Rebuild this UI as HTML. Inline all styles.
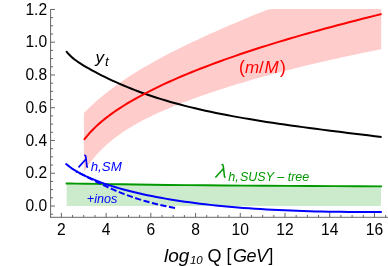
<!DOCTYPE html>
<html><head><meta charset="utf-8"><title>plot</title>
<style>
html,body{margin:0;padding:0;background:#fff;}
svg{display:block;will-change:transform;font-family:"Liberation Sans",sans-serif;}
</style></head>
<body>
<svg width="388" height="266" viewBox="0 0 388 266">
<rect width="388" height="266" fill="#fff"/>
<path d="M66.70 183.52 L69.52 183.54 L76.50 183.60 L85.54 183.73 L96.25 183.91 L108.40 184.11 L121.83 184.32 L136.43 184.52 L152.12 184.73 L168.82 184.93 L186.47 185.11 L205.03 185.29 L224.46 185.46 L244.71 185.61 L265.76 185.76 L287.57 185.90 L310.13 186.02 L333.40 186.14 L357.36 186.25 L381.00 186.36 L381 205.9 L66.7 205.9 Z" fill="#ccebcc"/>
<path d="M83.90 113.12 L84.42 112.59 L85.37 111.62 L86.60 110.39 L88.05 108.95 L89.70 107.35 L91.52 105.62 L93.51 103.79 L95.64 101.86 L97.91 99.86 L100.30 97.80 L102.82 95.70 L105.46 93.56 L108.21 91.39 L111.07 89.19 L114.03 86.98 L117.10 84.76 L120.26 82.53 L123.51 80.29 L126.86 78.05 L130.29 75.81 L133.82 73.57 L137.42 71.34 L141.12 69.10 L144.89 66.87 L148.74 64.64 L152.67 62.42 L156.67 60.20 L160.75 57.99 L164.91 55.78 L169.13 53.57 L173.43 51.37 L177.80 49.17 L182.23 46.97 L186.73 44.78 L191.30 42.59 L195.94 40.39 L200.64 38.21 L205.41 36.02 L210.23 33.83 L215.12 31.64 L220.07 29.46 L225.09 27.27 L230.16 25.08 L235.29 22.89 L240.48 20.70 L245.73 18.50 L251.04 16.31 L256.40 14.11 L261.82 11.91 L267.29 9.70 L272.82 9.00 L278.40 9.00 L284.04 9.00 L289.73 9.00 L295.48 9.00 L301.27 9.00 L307.12 9.00 L313.02 9.00 L318.97 9.00 L324.97 9.00 L331.02 9.00 L337.13 9.00 L343.28 9.00 L349.48 9.00 L355.73 9.00 L362.02 9.00 L368.37 9.00 L374.76 9.00 L381.20 9.00 L381.20 49.31 L374.76 50.56 L368.37 51.83 L362.02 53.12 L355.73 54.42 L349.48 55.73 L343.28 57.06 L337.13 58.40 L331.02 59.76 L324.97 61.13 L318.97 62.51 L313.02 63.91 L307.12 65.32 L301.27 66.75 L295.48 68.18 L289.73 69.63 L284.04 71.09 L278.40 72.56 L272.82 74.05 L267.29 75.55 L261.82 77.06 L256.40 78.58 L251.04 80.11 L245.73 81.65 L240.48 83.21 L235.29 84.77 L230.16 86.35 L225.09 87.94 L220.07 89.55 L215.12 91.16 L210.23 92.79 L205.41 94.43 L200.64 96.09 L195.94 97.76 L191.30 99.45 L186.73 101.15 L182.23 102.87 L177.80 104.61 L173.43 106.36 L169.13 108.14 L164.91 109.94 L160.75 111.77 L156.67 113.62 L152.67 115.50 L148.74 117.40 L144.89 119.34 L141.12 121.32 L137.42 123.33 L133.82 125.37 L130.29 127.46 L126.86 129.59 L123.51 131.77 L120.26 133.99 L117.10 136.26 L114.03 138.58 L111.07 140.94 L108.21 143.35 L105.46 145.80 L102.82 148.29 L100.30 150.80 L97.91 153.33 L95.64 155.86 L93.51 158.38 L91.52 160.85 L89.70 163.24 L88.05 165.51 L86.60 167.61 L85.37 169.45 L84.42 170.92 L83.90 171.74 Z" fill="#ffcccc"/>
<path d="M65.70 183.52 L69.52 183.54 L76.50 183.60 L85.54 183.73 L96.25 183.91 L108.40 184.11 L121.83 184.32 L136.43 184.52 L152.12 184.73 L168.82 184.93 L186.47 185.11 L205.03 185.29 L224.46 185.46 L244.71 185.61 L265.76 185.76 L287.57 185.90 L310.13 186.02 L333.40 186.14 L357.36 186.25 L382.00 186.36" stroke="#009900" stroke-width="1.9" fill="none"/>
<path d="M175.00 207.93 L169.92 207.00 L164.94 205.99 L160.04 204.92 L155.24 203.78 L150.53 202.58 L145.92 201.31 L141.41 199.98 L137.01 198.60 L132.70 197.16 L128.50 195.68 L124.41 194.16 L120.43 192.60 L116.57 191.02 L112.83 189.42 L109.21 187.81 L105.71 186.20 L102.35 184.61 L99.13 183.04 L96.05 181.50 L93.12 180.03 L90.34 178.61 L87.74 177.28 L85.32 176.05 L83.09 174.93 L81.07 173.93 L79.29 173.07 L77.79 172.37 L76.63 171.84 L76.00 171.56" stroke="#0000ff" stroke-width="2" fill="none" stroke-dasharray="6.2 2.52"/>
<path d="M65.60 163.49 L66.15 163.98 L67.16 164.84 L68.47 165.89 L70.01 167.06 L71.77 168.30 L73.71 169.59 L75.82 170.89 L78.08 172.21 L80.50 173.52 L83.05 174.84 L85.73 176.14 L88.53 177.42 L91.46 178.69 L94.50 179.95 L97.65 181.18 L100.91 182.40 L104.27 183.59 L107.73 184.76 L111.29 185.92 L114.94 187.04 L118.69 188.15 L122.53 189.23 L126.45 190.29 L130.46 191.32 L134.56 192.32 L138.74 193.30 L143.00 194.26 L147.34 195.19 L151.76 196.09 L156.25 196.97 L160.82 197.82 L165.46 198.64 L170.18 199.44 L174.97 200.21 L179.83 200.95 L184.76 201.67 L189.76 202.36 L194.83 203.03 L199.96 203.67 L205.17 204.28 L210.43 204.87 L215.76 205.44 L221.16 205.98 L226.62 206.49 L232.14 206.98 L237.72 207.44 L243.36 207.88 L249.06 208.30 L254.83 208.69 L260.65 209.06 L266.53 209.41 L272.47 209.73 L278.46 210.03 L284.52 210.31 L290.63 210.57 L296.79 210.81 L303.01 211.02 L309.29 211.21 L315.62 211.39 L322.00 211.54 L328.43 211.67 L334.92 211.78 L341.47 211.87 L348.06 211.95 L354.71 212.00 L361.40 212.03 L368.15 212.05 L374.95 212.05 L381.80 212.03" stroke="#0000ff" stroke-width="2" fill="none"/>
<path d="M66.20 51.10 L66.75 51.82 L67.76 53.05 L69.06 54.50 L70.60 56.05 L72.35 57.63 L74.29 59.21 L76.39 60.80 L78.65 62.37 L81.06 63.95 L83.60 65.53 L86.28 67.12 L89.07 68.72 L91.99 70.34 L95.03 71.97 L98.17 73.62 L101.42 75.28 L104.77 76.95 L108.22 78.62 L111.77 80.29 L115.42 81.96 L119.16 83.62 L122.98 85.27 L126.90 86.91 L130.90 88.53 L134.99 90.12 L139.15 91.70 L143.40 93.25 L147.73 94.77 L152.14 96.27 L156.62 97.73 L161.18 99.17 L165.81 100.57 L170.52 101.94 L175.30 103.28 L180.14 104.59 L185.06 105.87 L190.05 107.12 L195.10 108.34 L200.22 109.53 L205.41 110.69 L210.67 111.83 L215.98 112.93 L221.36 114.02 L226.81 115.07 L232.31 116.11 L237.88 117.12 L243.51 118.11 L249.20 119.08 L254.95 120.03 L260.76 120.97 L266.62 121.89 L272.54 122.79 L278.53 123.68 L284.56 124.56 L290.66 125.43 L296.81 126.29 L303.01 127.13 L309.27 127.97 L315.58 128.81 L321.95 129.63 L328.37 130.46 L334.84 131.27 L341.37 132.09 L347.95 132.91 L354.58 133.72 L361.26 134.53 L367.99 135.35 L374.77 136.17 L381.60 136.99" stroke="#000" stroke-width="2" fill="none"/>
<path d="M83.90 139.93 L84.42 139.25 L85.37 138.03 L86.60 136.52 L88.06 134.80 L89.71 132.93 L91.53 130.97 L93.52 128.94 L95.65 126.86 L97.92 124.75 L100.32 122.63 L102.85 120.50 L105.49 118.37 L108.25 116.24 L111.11 114.12 L114.07 112.01 L117.14 109.91 L120.31 107.82 L123.57 105.75 L126.92 103.68 L130.36 101.63 L133.88 99.59 L137.50 97.56 L141.19 95.55 L144.97 93.54 L148.83 91.55 L152.76 89.57 L156.77 87.61 L160.86 85.65 L165.02 83.70 L169.25 81.77 L173.55 79.85 L177.92 77.94 L182.36 76.04 L186.87 74.15 L191.45 72.27 L196.09 70.40 L200.80 68.55 L205.57 66.70 L210.40 64.86 L215.30 63.04 L220.26 61.22 L225.28 59.42 L230.36 57.63 L235.49 55.84 L240.69 54.07 L245.95 52.30 L251.26 50.55 L256.63 48.80 L262.06 47.07 L267.54 45.34 L273.07 43.62 L278.66 41.91 L284.31 40.21 L290.01 38.52 L295.76 36.84 L301.56 35.16 L307.42 33.50 L313.33 31.84 L319.29 30.19 L325.30 28.55 L331.36 26.91 L337.47 25.28 L343.63 23.66 L349.83 22.04 L356.09 20.44 L362.40 18.83 L368.75 17.24 L375.15 15.65 L381.60 14.07" stroke="#ff0000" stroke-width="2" fill="none"/>
<g stroke="#666" stroke-width="1" fill="none">
<line x1="50.6" y1="9.0" x2="50.6" y2="217.8"/>
<line x1="50.1" y1="217.3" x2="388" y2="217.3"/>
<line x1="50.6" y1="214.19" x2="53.10" y2="214.19"/>
<line x1="50.6" y1="206.00" x2="55.00" y2="206.00"/>
<line x1="50.6" y1="197.81" x2="53.10" y2="197.81"/>
<line x1="50.6" y1="189.62" x2="53.10" y2="189.62"/>
<line x1="50.6" y1="181.43" x2="53.10" y2="181.43"/>
<line x1="50.6" y1="173.24" x2="55.00" y2="173.24"/>
<line x1="50.6" y1="165.05" x2="53.10" y2="165.05"/>
<line x1="50.6" y1="156.86" x2="53.10" y2="156.86"/>
<line x1="50.6" y1="148.67" x2="53.10" y2="148.67"/>
<line x1="50.6" y1="140.48" x2="55.00" y2="140.48"/>
<line x1="50.6" y1="132.29" x2="53.10" y2="132.29"/>
<line x1="50.6" y1="124.10" x2="53.10" y2="124.10"/>
<line x1="50.6" y1="115.91" x2="53.10" y2="115.91"/>
<line x1="50.6" y1="107.72" x2="55.00" y2="107.72"/>
<line x1="50.6" y1="99.53" x2="53.10" y2="99.53"/>
<line x1="50.6" y1="91.34" x2="53.10" y2="91.34"/>
<line x1="50.6" y1="83.15" x2="53.10" y2="83.15"/>
<line x1="50.6" y1="74.96" x2="55.00" y2="74.96"/>
<line x1="50.6" y1="66.77" x2="53.10" y2="66.77"/>
<line x1="50.6" y1="58.58" x2="53.10" y2="58.58"/>
<line x1="50.6" y1="50.39" x2="53.10" y2="50.39"/>
<line x1="50.6" y1="42.20" x2="55.00" y2="42.20"/>
<line x1="50.6" y1="34.01" x2="53.10" y2="34.01"/>
<line x1="50.6" y1="25.82" x2="53.10" y2="25.82"/>
<line x1="50.6" y1="17.63" x2="53.10" y2="17.63"/>
<line x1="50.6" y1="9.44" x2="55.00" y2="9.44"/>
<line x1="61.40" y1="217.3" x2="61.40" y2="212.90"/>
<line x1="72.58" y1="217.3" x2="72.58" y2="215.00"/>
<line x1="83.76" y1="217.3" x2="83.76" y2="215.00"/>
<line x1="94.94" y1="217.3" x2="94.94" y2="215.00"/>
<line x1="106.12" y1="217.3" x2="106.12" y2="212.90"/>
<line x1="117.30" y1="217.3" x2="117.30" y2="215.00"/>
<line x1="128.48" y1="217.3" x2="128.48" y2="215.00"/>
<line x1="139.66" y1="217.3" x2="139.66" y2="215.00"/>
<line x1="150.84" y1="217.3" x2="150.84" y2="212.90"/>
<line x1="162.02" y1="217.3" x2="162.02" y2="215.00"/>
<line x1="173.20" y1="217.3" x2="173.20" y2="215.00"/>
<line x1="184.38" y1="217.3" x2="184.38" y2="215.00"/>
<line x1="195.56" y1="217.3" x2="195.56" y2="212.90"/>
<line x1="206.74" y1="217.3" x2="206.74" y2="215.00"/>
<line x1="217.92" y1="217.3" x2="217.92" y2="215.00"/>
<line x1="229.10" y1="217.3" x2="229.10" y2="215.00"/>
<line x1="240.28" y1="217.3" x2="240.28" y2="212.90"/>
<line x1="251.46" y1="217.3" x2="251.46" y2="215.00"/>
<line x1="262.64" y1="217.3" x2="262.64" y2="215.00"/>
<line x1="273.82" y1="217.3" x2="273.82" y2="215.00"/>
<line x1="285.00" y1="217.3" x2="285.00" y2="212.90"/>
<line x1="296.18" y1="217.3" x2="296.18" y2="215.00"/>
<line x1="307.36" y1="217.3" x2="307.36" y2="215.00"/>
<line x1="318.54" y1="217.3" x2="318.54" y2="215.00"/>
<line x1="329.72" y1="217.3" x2="329.72" y2="212.90"/>
<line x1="340.90" y1="217.3" x2="340.90" y2="215.00"/>
<line x1="352.08" y1="217.3" x2="352.08" y2="215.00"/>
<line x1="363.26" y1="217.3" x2="363.26" y2="215.00"/>
<line x1="374.44" y1="217.3" x2="374.44" y2="212.90"/>
<line x1="385.62" y1="217.3" x2="385.62" y2="215.00"/>
</g>
<g font-size="15.6" fill="#000">
<text x="47.1" y="211.10" text-anchor="end">0.0</text>
<text x="47.1" y="178.34" text-anchor="end">0.2</text>
<text x="47.1" y="145.58" text-anchor="end">0.4</text>
<text x="47.1" y="112.82" text-anchor="end">0.6</text>
<text x="47.1" y="80.06" text-anchor="end">0.8</text>
<text x="47.1" y="47.30" text-anchor="end">1.0</text>
<text x="47.1" y="14.54" text-anchor="end">1.2</text>
<text x="61.40" y="234.6" text-anchor="middle">2</text>
<text x="106.12" y="234.6" text-anchor="middle">4</text>
<text x="150.84" y="234.6" text-anchor="middle">6</text>
<text x="195.56" y="234.6" text-anchor="middle">8</text>
<text x="240.28" y="234.6" text-anchor="middle">10</text>
<text x="285.00" y="234.6" text-anchor="middle">12</text>
<text x="329.72" y="234.6" text-anchor="middle">14</text>
<text x="374.44" y="234.6" text-anchor="middle">16</text>
</g>
<g font-size="19" fill="#000"><text x="164.0" y="261.8" font-style="italic">log</text>
<text x="189.9" y="264.1" font-size="11.5" font-style="italic">10</text>
<text x="207.6" y="261.8" font-size="18">Q</text>
<text x="226.4" y="261.4" font-size="17.5">[</text>
<text x="233.0" y="261.8" font-size="18" font-style="italic">G</text>
<text x="246.4" y="261.8" font-size="18" font-style="italic">e</text>
<text x="255.9" y="261.8" font-size="18" font-style="italic">V</text>
<text x="268.6" y="261.4" font-size="17.5">]</text></g>
<text x="95.6" y="62.8" font-size="17" font-style="italic" fill="#000">y</text>
<text x="104.9" y="66.3" font-size="13.5" font-style="italic" fill="#000">t</text>
<g font-size="17" fill="#ff0000"><text x="239.0" y="72.8" font-size="17.5">(</text>
<text x="245.1" y="72.6" font-style="italic">m</text>
<text x="259.0" y="72.6">/</text>
<text x="264.4" y="72.6" font-style="italic">M</text>
<text x="280.0" y="72.8" font-size="17.5">)</text></g>
<g stroke="#0000ff" stroke-width="1.7" fill="none" stroke-linecap="butt" stroke-linejoin="round"><path d="M84.20 155.60 Q85.60 154.80 85.85 157.00 L86.90 166.40 Q87.00 167.10 88.00 166.90"/><path d="M86.05 159.00 L78.50 167.40"/></g>
<text x="90.7" y="170.6" font-size="13.3" font-style="italic" fill="#0000ff">h,SM</text>
<text x="86.8" y="202.5" font-size="12.6" font-style="italic" fill="#0000ff">+inos</text>
<g stroke="#009900" stroke-width="1.5" fill="none" stroke-linecap="butt" stroke-linejoin="round"><path d="M221.54 164.86 Q223.05 164.00 223.32 166.38 L224.46 176.53 Q224.56 177.28 225.64 177.07"/><path d="M223.54 168.54 L215.38 177.61"/></g>
<text x="228.3" y="180.8" font-size="12.5" font-style="italic" fill="#009900">h,</text>
<text x="240.0" y="180.8" font-size="12.5" font-style="italic" fill="#009900">SUSY – tree</text>
</svg>
</body></html>
